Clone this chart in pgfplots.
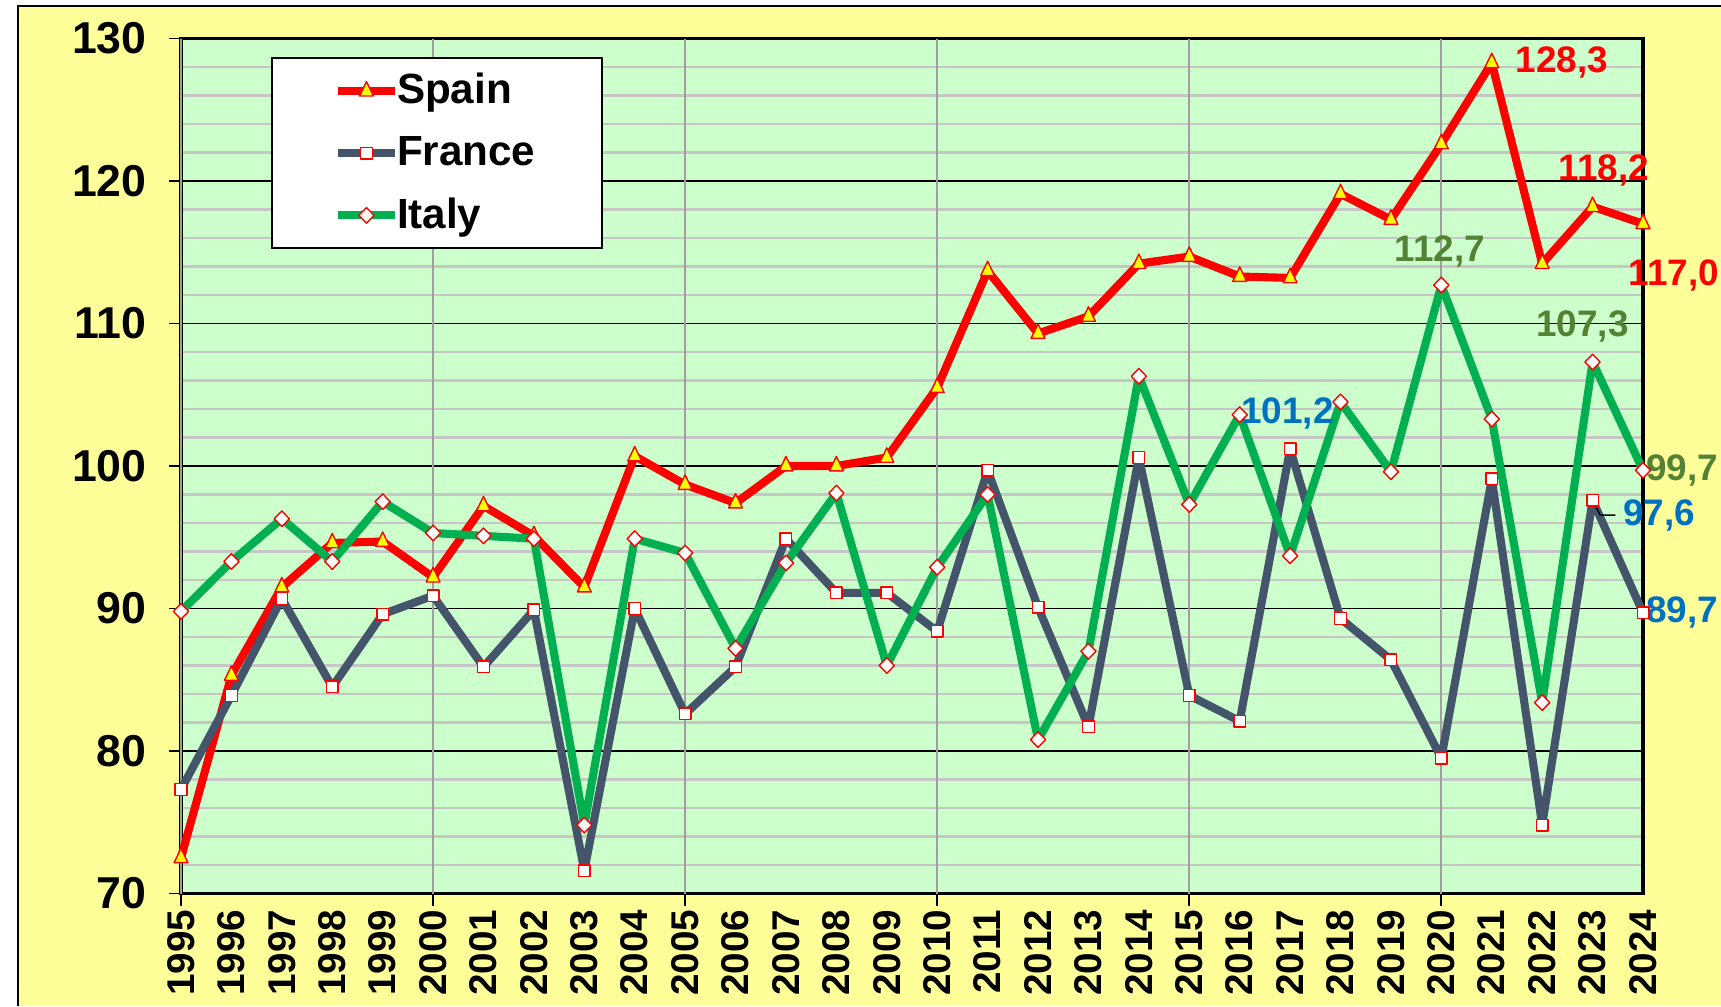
\documentclass[border=0pt]{standalone}
\usepackage{fontspec}
\setmainfont{Liberation Sans}
\usepackage{pgfplots}
\pgfplotsset{compat=1.18}
\definecolor{bgyellow}{HTML}{FFFF99}
\definecolor{plotgreen}{HTML}{CCFFCC}
\definecolor{spainred}{HTML}{FF0000}
\definecolor{franceslate}{HTML}{44546A}
\definecolor{italygreen}{HTML}{00B050}
\definecolor{labgreen}{HTML}{548235}
\definecolor{labblue}{HTML}{0070C0}
\definecolor{mkyellow}{HTML}{FFFF00}
\begin{document}
\begin{tikzpicture}
\useasboundingbox (0,0) rectangle (172.1mm,100.6mm);
\fill[white] (0,0) rectangle (172.1mm,100.6mm);
\fill[bgyellow] (1.8mm,0) rectangle (172.1mm,100.0mm);
\draw[black, line width=0.4pt] (1.8mm,0) -- (1.8mm,100.0mm) -- (172.1mm,100.0mm);
\begin{axis}[
  at={(18.1mm,11.25mm)}, anchor=south west,
  scale only axis, width=146.2mm, height=85.5mm,
  xmin=1995, xmax=2024, ymin=70, ymax=130,
  clip=false,
  axis background/.style={fill=plotgreen},
  axis line style={black, line width=0.9pt},
  /pgf/number format/assume math mode=true,
  /pgf/number format/1000 sep={},
  tick align=outside,
  xtick pos=bottom, ytick pos=left,
  major tick length=1.2mm,
  minor tick length=0pt,
  xtick={1995,...,2024},
  xtick style={draw=none},
  xticklabel style={rotate=90, anchor=east, inner sep=1pt, font=\bfseries\fontsize{11}{12}\selectfont},
  extra x ticks={1995,2000,2005,2010,2015,2020},
  extra x tick labels={},
  extra x tick style={grid=major, major grid style={draw=gray!75, line width=0.5pt}, xtick style={draw=black, line width=0.5pt}},
  ytick={70,80,...,130},
  minor y tick num=4,
  ymajorgrids, yminorgrids,
  major grid style={draw=black, line width=0.45pt},
  minor grid style={draw=gray!45, line width=0.6pt},
  ytick style={draw=black, line width=0.5pt},
  yticklabel style={font=\bfseries\fontsize{12.7}{14}\selectfont, xshift=-1mm},
  legend style={at={(0.0616,0.978)}, anchor=north west, draw=black, line width=0.5pt, fill=white,
    font=\bfseries\fontsize{12}{14}\selectfont, inner xsep=0pt, inner ysep=0.8mm, row sep=1.3mm},
  legend cell align=left,
  legend image code/.code={\path (-6.2mm,0) (0,0);
    \draw[#1, mark repeat=2, mark phase=2] plot coordinates {(0mm,0mm) (2.85mm,0mm) (5.7mm,0mm)};},
]
\addplot[spainred, line width=2.3pt, line join=round, mark=triangle*, mark size=0.8mm,
  mark options={solid, fill=mkyellow, draw=spainred, line width=0.4pt, yscale=1.2}] coordinates {
(1995,72.5) (1996,85.3) (1997,91.5) (1998,94.6) (1999,94.7) (2000,92.2)
(2001,97.2) (2002,95.1) (2003,91.5) (2004,100.7) (2005,98.7) (2006,97.4)
(2007,100.0) (2008,100.0) (2009,100.6) (2010,105.5) (2011,113.7) (2012,109.3)
(2013,110.5) (2014,114.2) (2015,114.7) (2016,113.3) (2017,113.2) (2018,119.1)
(2019,117.3) (2020,122.6) (2021,128.3) (2022,114.2) (2023,118.2) (2024,117.0)};
\addlegendentry{\makebox[18.9mm][l]{\hspace*{-0.9mm}Spain}}
\addplot[franceslate, line width=2.3pt, line join=round, mark=square*, mark size=0.58mm,
  mark options={solid, fill=white, draw=spainred, line width=0.4pt}] coordinates {
(1995,77.3) (1996,83.9) (1997,90.7) (1998,84.5) (1999,89.6) (2000,90.9)
(2001,85.9) (2002,89.9) (2003,71.6) (2004,90.0) (2005,82.6) (2006,85.9)
(2007,94.9) (2008,91.1) (2009,91.1) (2010,88.4) (2011,99.7) (2012,90.1)
(2013,81.7) (2014,100.6) (2015,83.9) (2016,82.1) (2017,101.2) (2018,89.3)
(2019,86.4) (2020,79.5) (2021,99.1) (2022,74.8) (2023,97.6) (2024,89.7)};
\addlegendentry{\makebox[18.9mm][l]{\hspace*{-0.9mm}France}}
\addplot[italygreen, line width=2.3pt, line join=round, mark=diamond*, mark size=0.78mm,
  mark options={solid, fill=white, draw=spainred, line width=0.4pt, xscale=1.3}] coordinates {
(1995,89.8) (1996,93.3) (1997,96.3) (1998,93.3) (1999,97.5) (2000,95.3)
(2001,95.1) (2002,94.9) (2003,74.8) (2004,94.9) (2005,93.9) (2006,87.2)
(2007,93.2) (2008,98.1) (2009,86.0) (2010,92.9) (2011,98.0) (2012,80.8)
(2013,87.0) (2014,106.3) (2015,97.3) (2016,103.6) (2017,93.7) (2018,104.5)
(2019,99.6) (2020,112.7) (2021,103.3) (2022,83.4) (2023,107.3) (2024,99.7)};
\addlegendentry{\makebox[18.9mm][l]{\hspace*{-0.9mm}Italy}}
\begin{scope}[every node/.style={font=\bfseries\fontsize{10.5}{12}\selectfont, inner sep=0pt}]
\node[text=spainred] at (axis cs:2022.39,128.3) {128,3};
\node[text=spainred] at (axis cs:2023.22,120.75) {118,2};
\node[text=spainred] at (axis cs:2024.61,113.4) {117,0};
\node[text=labgreen] at (axis cs:2019.97,115.05) {112,7};
\node[text=labgreen] at (axis cs:2022.80,109.8) {107,3};
\node[text=labblue] at (axis cs:2016.95,103.7) {101,2};
\node[text=labgreen] at (axis cs:2024.78,99.7) {99,7};
\node[text=labblue] at (axis cs:2024.32,96.5) {97,6};
\node[text=labblue] at (axis cs:2024.78,89.7) {89,7};
\end{scope}
\draw[black, line width=0.4pt] (axis cs:2023.0,97.6) -- (axis cs:2023.15,96.55) -- (axis cs:2023.45,96.55);
\end{axis}
\end{tikzpicture}
\end{document}
